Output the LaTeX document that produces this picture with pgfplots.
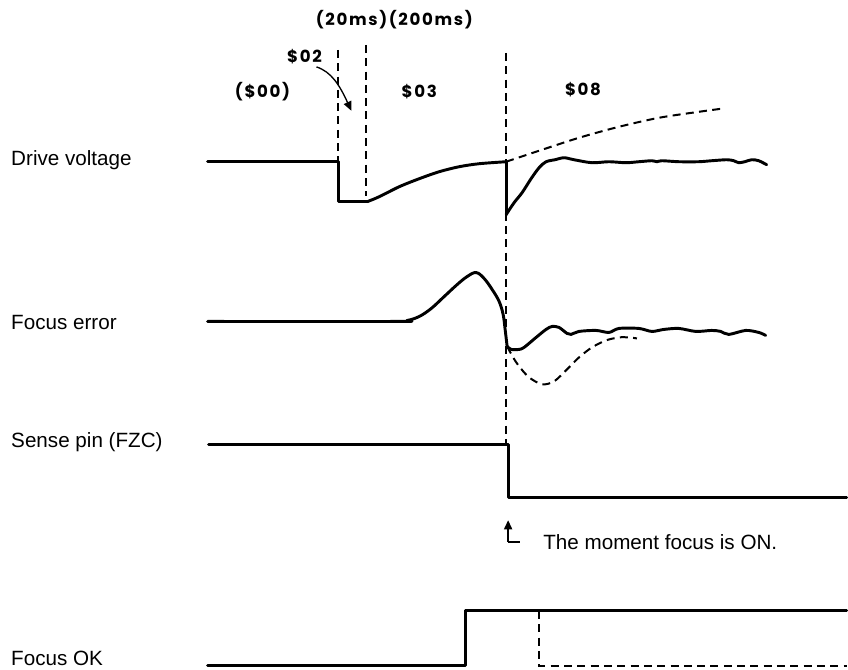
\documentclass[border=0pt]{standalone}
\usepackage{fontspec}
\setmainfont{Liberation Sans}
\newfontfamily\labfont[LetterSpace=10]{Poppins}
\usepackage{pgfplots}
\pgfplotsset{compat=1.18}
\usetikzlibrary{arrows.meta}
\tikzset{
  sig/.style={black, line width=2.2pt, line join=round, line cap=round},
  dsh/.style={black, line width=1.5pt, dash pattern=on 6pt off 4pt},
  lab/.style={font=\fontsize{15.5}{18}\selectfont, anchor=west, inner sep=0pt},
  hex/.style={font=\labfont\bfseries\fontsize{12.5}{15}\selectfont, inner sep=0pt},
}
\begin{document}
\begin{tikzpicture}
\begin{axis}[
  scale only axis, width=636pt, height=503.25pt,
  xmin=0, xmax=848, ymin=0, ymax=671, y dir=reverse,
  hide axis, clip=false,
]
\path (axis cs:0,0) rectangle (axis cs:848,671);
% vertical dashed markers
\addplot[dsh] coordinates {(339,50) (339,162)};
\addplot[dsh] coordinates {(367,45) (367,196)};
\addplot[dsh] coordinates {(507,53) (507,445)};
% Drive voltage
\addplot[sig, sharp plot] coordinates {(208,162) (339,162) (339,202) (368,202)};
\addplot[sig, smooth] coordinates {(368,202) (380,197) (400,187) (420,179) (440,172) (460,167) (480,164) (507,162)};
\addplot[sig, sharp plot] coordinates {(507,162) (507,215)};
\addplot[sig, smooth, tension=0.5] coordinates {(507,215) (515,203) (523,193) (532,179) (540,168) (547,162) (556,160) (565,158) (575,160) (593,163) (610,162) (627,163) (640,162) (653,161) (658,162) (663,161) (680,162) (700,162) (713,161) (728,160) (735,161) (740,163) (746,162) (753,160) (760,161) (768,165)};
\addplot[dsh, smooth] coordinates {(507,162) (540,151) (580,138) (620,127) (660,118) (700,112) (722,109)};
% Focus error
\addplot[sig, smooth, tension=0.6] coordinates {(208,322) (395,322) (408,321) (420,317) (432,309) (445,297) (458,285) (468,277) (477,273) (485,279) (493,290) (500,302) (504,315) (506,330) (508,347)};
\addplot[sig, smooth, tension=0.5] coordinates {(508,347) (512,350) (520,350) (525,348) (537,338) (547,330) (553,327) (560,328) (568,334) (572,335) (580,332) (597,331) (610,333) (620,329) (640,329) (653,332) (665,330) (680,329) (697,332) (713,331) (722,332) (730,335) (747,331) (760,333) (767,336)};
\addplot[dsh, smooth] coordinates {(508,347) (514,358) (520,367) (530,378) (543,385) (555,382) (567,371) (580,358) (593,348) (607,341) (620,338) (630,338) (638,339)};
% Sense pin
\addplot[sig, sharp plot] coordinates {(209,445) (509,445) (509,498) (848,498)};
% Focus OK
\addplot[sig, sharp plot] coordinates {(208,667) (466,667) (466,612) (848,612)};
\addplot[dsh, sharp plot] coordinates {(540,612) (540,667) (848,667)};
% annotations
\draw[black, line width=1pt, -{Triangle[length=7pt,width=6pt]}] (axis cs:317,67) .. controls (axis cs:332,72) and (axis cs:340,85) .. (axis cs:352,111);
\draw[black, line width=1.5pt, -{Triangle[length=7pt,width=6pt]}] (axis cs:509,543) -- (axis cs:509,521);
\draw[black, line width=1.5pt] (axis cs:509,543) -- (axis cs:521,543);
\node[lab] at (axis cs:11,160) {Drive voltage};
\node[lab] at (axis cs:11,323) {Focus error};
\node[lab] at (axis cs:11,443) {Sense pin (FZC)};
\node[lab] at (axis cs:11,660) {Focus OK};
\node[lab] at (axis cs:544,543) {The moment focus is ON.};
\node[hex] at (axis cs:395,20) {(20ms)(200ms)};
\node[hex] at (axis cs:305,57) {\$02};
\node[hex] at (axis cs:263,92) {(\$00)};
\node[hex] at (axis cs:420,92) {\$03};
\node[hex] at (axis cs:584,90) {\$08};
\end{axis}
\end{tikzpicture}
\end{document}
